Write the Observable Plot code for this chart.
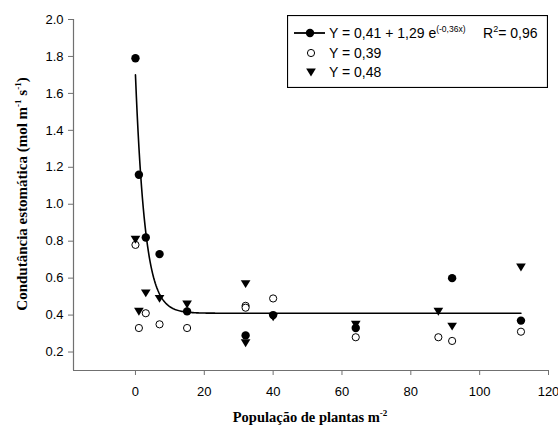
<!DOCTYPE html>
<html><head><meta charset="utf-8">
<script src="https://cdn.jsdelivr.net/npm/d3@7"></script>
<script src="https://cdn.jsdelivr.net/npm/@observablehq/plot@0.6"></script>
<style>
body{margin:0;background:#fff}
#wrap{position:relative;width:558px;height:432px}
#legend{position:absolute;left:287px;top:15px}
</style>
</head><body><div id="wrap"></div>
<script>
// Data
const xFilled = [0, 1, 3, 7, 15, 32, 40, 64, 92, 112];
const yFilled = [1.79, 1.16, 0.82, 0.73, 0.42, 0.29, 0.40, 0.33, 0.60, 0.37];
const xOpen = [0, 1, 3, 7, 15, 32, 32, 40, 64, 88, 92, 112];
const yOpen = [0.78, 0.33, 0.41, 0.35, 0.33, 0.45, 0.44, 0.49, 0.28, 0.28, 0.26, 0.31];
const xTri = [0, 1, 3, 7, 15, 32, 32, 40, 64, 88, 92, 112];
const yTri = [0.81, 0.42, 0.52, 0.49, 0.46, 0.57, 0.25, 0.39, 0.35, 0.42, 0.34, 0.66];
// Fitted model from the legend: Y = a + b*e^(k x)
const fitA = 0.41, fitB = 1.29, fitK = -0.36, fitXmax = 112;
const xTicks = [0, 20, 40, 60, 80, 100, 120];
const yTicks = [0.2, 0.4, 0.6, 0.8, 1.0, 1.2, 1.4, 1.6, 1.8, 2.0];
const legendLabels = ["Y = 0,41 + 1,29 e", "Y = 0,39", "Y = 0,48"];
const legendExp = "(-0,36x)";
const legendR2 = "0,96";

const filled = xFilled.map((x, i) => ({x, y: yFilled[i]}));
const open = xOpen.map((x, i) => ({x, y: yOpen[i]}));
const tri = xTri.map((x, i) => ({x, y: yTri[i]}));
const curve = d3.range(0, fitXmax + 0.001, 0.25).map(x => ({x, y: fitA + fitB * Math.exp(fitK * x)}));

const triDown = {draw(ctx, size) {
  const r = Math.sqrt(size / Math.PI);
  ctx.moveTo(-r * 1.1, -r * 0.8);
  ctx.lineTo(r * 1.1, -r * 0.8);
  ctx.lineTo(0, r * 1.0);
  ctx.closePath();
}};

const axisColor = "#707070";
const chart = Plot.plot({
  width: 558, height: 432,
  marginLeft: 73, marginRight: 10, marginTop: 19, marginBottom: 62,
  x: {domain: [-18, 120]},
  y: {domain: [0.1, 2.0]},
  style: {fontFamily: "'Liberation Sans', Arial, sans-serif", fontSize: "13px", color: "black", background: "white"},
  marks: [
    Plot.ruleY([0.1], {stroke: axisColor, strokeWidth: 1.2}),
    Plot.ruleX([-18], {y1: 0.1, y2: 2.0, stroke: axisColor, strokeWidth: 1.2}),
    Plot.axisX({ticks: xTicks, tickSize: 5, tickPadding: 11, stroke: axisColor, label: null, tickFormat: d => String(d)}),
    Plot.axisY({ticks: yTicks, tickSize: 5, tickPadding: 5, stroke: axisColor, label: null, tickFormat: d3.format(".1f")}),
    Plot.line(curve, {x: "x", y: "y", stroke: "black", strokeWidth: 1.6}),
    Plot.dot(open, {x: "x", y: "y", r: 3.6, stroke: "black", strokeWidth: 1, fill: "white"}),
    Plot.dot(tri, {x: "x", y: "y", r: 4.4, symbol: triDown, fill: "black", stroke: "none"}),
    Plot.dot(filled, {x: "x", y: "y", r: 4.2, fill: "black", stroke: "none"})
  ]
});

const svg = d3.select(chart);
// Axis titles
const yt = svg.append("text")
  .attr("transform", "translate(27,194) rotate(-90)")
  .attr("text-anchor", "middle")
  .style("font-family", "'Liberation Serif', 'Times New Roman', serif")
  .style("font-weight", "bold").style("font-size", "15px").attr("fill", "black");
yt.append("tspan").text("Condutância estomática (mol m");
yt.append("tspan").attr("dy", -6).style("font-size", "9px").text("-1");
yt.append("tspan").attr("dy", 6).text(" s");
yt.append("tspan").attr("dy", -6).style("font-size", "9px").text("-1");
yt.append("tspan").attr("dy", 6).text(")");

const xt = svg.append("text")
  .attr("x", 310).attr("y", 422)
  .attr("text-anchor", "middle")
  .style("font-family", "'Liberation Serif', 'Times New Roman', serif")
  .style("font-weight", "bold").style("font-size", "14.5px").attr("fill", "black");
xt.append("tspan").text("População de plantas m");
xt.append("tspan").attr("dy", -6).style("font-size", "9px").text("-2");

const wrap = document.getElementById("wrap");
wrap.appendChild(chart);

// Legend
const lg = d3.select(wrap).append("svg").attr("id", "legend").attr("width", 261).attr("height", 73);
lg.append("rect").attr("x", 0.5).attr("y", 0.5).attr("width", 260).attr("height", 72)
  .attr("fill", "white").attr("stroke", "black").attr("stroke-width", 1.2);
const fs = "font-family:'Liberation Sans',Arial,sans-serif;font-size:14px";
lg.append("line").attr("x1", 7).attr("x2", 38).attr("y1", 18).attr("y2", 18).attr("stroke", "black").attr("stroke-width", 1.8);
lg.append("circle").attr("cx", 23).attr("cy", 18).attr("r", 4.2).attr("fill", "black");
lg.append("circle").attr("cx", 24).attr("cy", 38).attr("r", 3.6).attr("fill", "white").attr("stroke", "black");
lg.append("path").attr("transform", "translate(24,57)").attr("d", d3.symbol(triDown, Math.PI * 4.4 * 4.4)()).attr("fill", "black");
const t1 = lg.append("text").attr("x", 42).attr("y", 23).attr("style", fs);
t1.append("tspan").text(legendLabels[0]);
t1.append("tspan").attr("dy", -6).style("font-size", "8.5px").text(legendExp);
const r2 = lg.append("text").attr("x", 196).attr("y", 23).attr("style", fs);
r2.append("tspan").text("R");
r2.append("tspan").attr("dy", -6).style("font-size", "9px").text("2");
r2.append("tspan").attr("dy", 6).text("= " + legendR2);
lg.append("text").attr("x", 42).attr("y", 43).attr("style", fs).text(legendLabels[1]);
lg.append("text").attr("x", 42).attr("y", 62).attr("style", fs).text(legendLabels[2]);
</script></body></html>
